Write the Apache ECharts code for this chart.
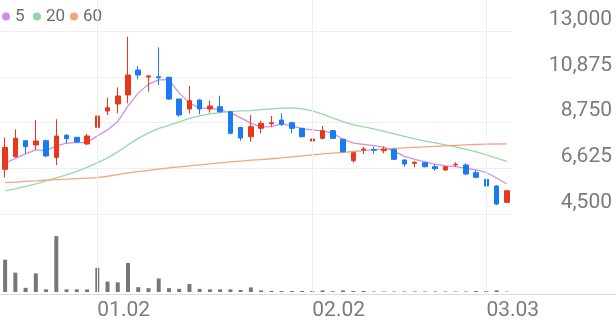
<!DOCTYPE html>
<html><head><meta charset="utf-8">
<script src="https://cdn.jsdelivr.net/npm/echarts@6/dist/echarts.min.js"></script>
<style>html,body{margin:0;padding:0;background:#fff}#c{width:616px;height:321px}</style>
</head><body><div id="c"></div>
<script>
// x-axis tick labels (category index where each label sits)
const tickIndex = [9, 30, 47];
const tickLabels = ['01.02', '02.02', '03.03'];
// price axis labels
const priceTicks = [4500, 6625, 8750, 10875, 13000];
// legend entries
const legendNames = ['5', '20', '60'];

// daily candles
const opens  = [6576,7161,7904,7705,7904,7133,8155,8062,7751,8527,9284,9609,10027,11188,10863,10877,10849,9841,9377,9795,9377,9484,9251,8520,8090,8480,8694,8866,8740,8480,7890,8016,8369,7969,6975,7472,7500,7440,7505,7008,6850,6883,6697,6543,6780,6776,6418,6111,5800,5043];
const closes = [7598,8016,7626,7890,7194,8123,7997,7844,8123,9052,9437,9981,10956,10956,10910,10831,9841,9098,9762,9377,9516,9251,8248,8030,8555,8713,8740,8666,8480,8090,7983,8369,8016,7393,7347,7520,7460,7505,7040,6822,6900,6697,6604,6697,6810,6358,6204,5800,4964,5582];
const lows   = [6204,7120,7319,7472,7150,6776,7784,7830,7705,8401,9098,9177,9642,10756,10180,10492,9800,9019,9177,9131,9205,9205,8200,7904,7858,8248,8555,8587,8248,8060,7858,7969,7990,7350,6883,7287,7300,7319,7000,6697,6669,6660,6511,6520,6697,6300,6158,5780,4918,5020];
const highs  = [8062,8434,7930,8866,7950,8898,8216,8080,8216,9716,9902,10385,12735,11374,10956,12243,10870,9841,10445,9830,9762,9995,9300,8557,9098,8833,9052,9177,8787,8500,8248,8587,8400,8000,7393,7626,7626,7626,7530,7040,6961,6900,6822,6720,6900,6850,6543,6130,5846,5600];
const volumes = [530,317,68,306,43,916,43,43,43,397,170,159,476,79,63,222,63,52,132,52,43,43,43,35,75,27,16,16,16,16,16,27,11,27,16,16,9,9,9,9,9,9,9,9,9,9,16,16,27,6];

// moving averages
const ma5  = [6858,7081,7291,7477,7444,7663,7788,7816,7816,8128,8407,8793,9523,10114,10532,10732,10746,10114,9649,9416,9416,9337,9211,8965,8718,8533,8560,8686,8593,8467,8407,8360,8253,7974,7788,7732,7677,7602,7407,7174,7035,6919,6812,6732,6700,6616,6546,6430,6174,5895];
const ma20 = [5570,5663,5779,5895,6035,6174,6314,6477,6663,6872,7105,7384,7709,8012,8267,8477,8616,8779,8942,9058,9151,9211,9258,9291,9304,9351,9384,9416,9430,9384,9291,9137,8951,8793,8639,8546,8453,8337,8221,8105,7988,7881,7802,7709,7616,7500,7384,7244,7091,6942];
const ma60 = [5956,5984,6012,6035,6072,6095,6118,6142,6165,6188,6253,6333,6407,6467,6523,6584,6639,6686,6732,6779,6826,6872,6919,6960,6998,7030,7067,7109,7156,7202,7249,7291,7328,7365,7402,7439,7477,7523,7546,7570,7593,7616,7639,7663,7686,7709,7728,7742,7751,7756];

const cats = opens.map((_, i) => { const k = tickIndex.indexOf(i); return k >= 0 ? tickLabels[k] : 'd' + i; });
const ohlc = opens.map((o, i) => [o, closes[i], lows[i], highs[i]]);
const RED = '#e8381c', BLUE = '#1a7bf0';
const LBL = '#7b7b7b', GRID = '#efefef';
const MA_COLORS = ['#cc8ce8', '#8fd9a5', '#f7a17a'];
const fmt = v => Number(v).toLocaleString('en-US');
const legendLeft = [2, 33, 70];

const chart = echarts.init(document.getElementById('c'), null, {renderer: 'canvas'});
chart.setOption({
  animation: false,
  textStyle: {fontFamily: 'Roboto'},
  legend: legendNames.map((n, k) => ({
    data: [n], left: legendLeft[k], top: 8, padding: 0, icon: 'circle', itemWidth: 8, itemHeight: 8,
    selectedMode: false,
    textStyle: {fontSize: 17, color: '#6b6b6b', fontFamily: 'Roboto'}
  })),
  grid: [
    {left: 0, right: 104, top: 31, bottom: 107},
    {left: 0, right: 104, top: 231, bottom: 27},
    {left: 0, right: 104, top: 0, bottom: 27},
    {left: 0, right: 0, top: 0, bottom: 27}
  ],
  xAxis: [
    {type: 'category', gridIndex: 0, data: cats, boundaryGap: true, axisLine: {show: false}, axisTick: {show: false}, axisLabel: {show: false}, splitLine: {show: false}},
    {type: 'category', gridIndex: 1, data: cats, boundaryGap: true, axisLine: {show: false}, axisTick: {show: false}, splitLine: {show: false},
      axisLabel: {show: true, interval: (i) => tickIndex.includes(i), align: 'left', margin: 8, fontSize: 21, color: LBL, fontFamily: 'Roboto'}},
    {type: 'category', gridIndex: 2, data: cats, boundaryGap: true, show: false},
    {type: 'value', gridIndex: 3, min: 0, max: 1, axisLine: {show: true, onZero: false, lineStyle: {color: '#dcdcdc', width: 1}}, axisTick: {show: false}, axisLabel: {show: false}, splitLine: {show: false}}
  ],
  yAxis: [
    {type: 'value', gridIndex: 0, position: 'right', min: 4500, max: 13000,
      axisLine: {show: false}, axisTick: {show: false, customValues: priceTicks},
      axisLabel: {customValues: priceTicks, formatter: fmt, align: 'right', margin: 100, verticalAlign: 'bottom', fontSize: 21, color: LBL, fontFamily: 'Roboto', padding: [0, 0, 1, 0]},
      splitLine: {show: true, lineStyle: {color: GRID, width: 1}}},
    {type: 'value', gridIndex: 1, min: 0, max: 1000, show: false},
    {type: 'value', gridIndex: 2, min: 0, max: 1, show: false},
    {type: 'value', gridIndex: 3, min: 0, max: 1, show: false}
  ],
  series: [
    {type: 'line', name: 'vgrid', xAxisIndex: 2, yAxisIndex: 2, data: [], z: 0, silent: true,
      markLine: {silent: true, symbol: ['none', 'none'], label: {show: false}, animation: false,
        lineStyle: {color: GRID, width: 1, type: 'solid'}, emphasis: {disabled: true},
        data: tickIndex.map(i => ({xAxis: i}))}},
    {type: 'line', name: legendNames[0], xAxisIndex: 0, yAxisIndex: 0, data: ma5, symbol: 'none', z: 2,
      lineStyle: {width: 1.3, color: '#d08fea'}, itemStyle: {color: MA_COLORS[0]}},
    {type: 'line', name: legendNames[1], xAxisIndex: 0, yAxisIndex: 0, data: ma20, symbol: 'none', z: 2,
      lineStyle: {width: 1.3, color: '#92daa5'}, itemStyle: {color: MA_COLORS[1]}},
    {type: 'line', name: legendNames[2], xAxisIndex: 0, yAxisIndex: 0, data: ma60, symbol: 'none', z: 2,
      lineStyle: {width: 1.3, color: '#f6a47c'}, itemStyle: {color: MA_COLORS[2]}},
    {type: 'candlestick', name: 'K', xAxisIndex: 0, yAxisIndex: 0, data: ohlc, barWidth: 5, z: 3,
      itemStyle: {color: RED, color0: BLUE, borderColor: RED, borderColor0: BLUE, borderWidth: 1}},
    {type: 'bar', name: 'vol', xAxisIndex: 1, yAxisIndex: 1, data: volumes, barWidth: 4,
      itemStyle: {color: '#777777'}}
  ]
});
</script>
</body></html>
